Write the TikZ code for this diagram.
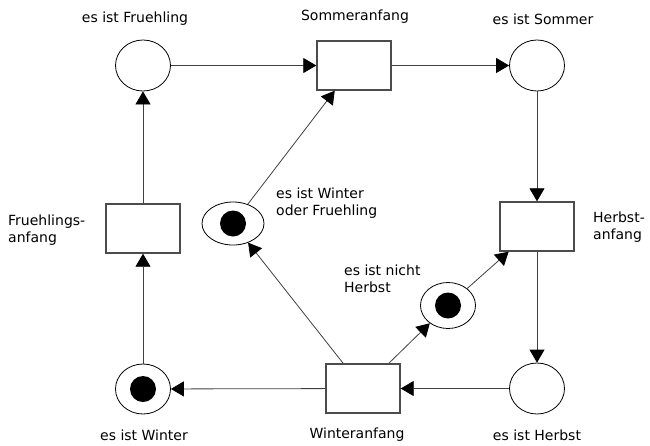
\documentclass[tikz,border=0pt]{standalone}
\usepackage{fontspec}
\setmainfont{DejaVu Sans}
\usepackage{tikz}
\usetikzlibrary{arrows.meta,shapes.geometric}

\tikzset{
  place/.style={draw, ellipse, line width=0.8pt, minimum width=55pt, minimum height=51pt, inner sep=0pt},
  trans/.style={draw=black!70, line width=1.4pt, minimum width=74pt, minimum height=49pt, inner sep=0pt},
  arc/.style={-{Triangle[width=15pt,length=13pt,black]}, draw=black!75, line width=0.8pt},
  lbl/.style={font=\fontsize{14}{17}\selectfont, align=left, inner sep=0pt}
}

\begin{document}
\begin{tikzpicture}[x=1pt,y=-1pt]
  \useasboundingbox (0,0) rectangle (650,445);
  % Stellen
  \node[place] (fruehling) at (143,65.5) {};
  \node[place] (sommer) at (537,65.5) {};
  \node[place] (herbst) at (537,388.5) {};
  \node[place, minimum height=50pt] (winter) at (143,389) {};
  \node[place, minimum width=62pt, minimum height=43pt] (wof) at (233,223.5) {};
  \node[place, minimum width=55pt, minimum height=46pt] (nichtherbst) at (448,305.5) {};
  \foreach \p in {winter,wof,nichtherbst} \fill[black] (\p) circle (13pt);
  % Transitionen
  \node[trans] (sa) at (354,65.5) {};
  \node[trans] (ha) at (537,226.5) {};
  \node[trans] (wa) at (363,388.5) {};
  \node[trans] (fa) at (143,228.5) {};
  % Kanten
  \draw[arc] (fruehling) -- (sa);
  \draw[arc] (sa) -- (sommer);
  \draw[arc] (sommer) -- (ha);
  \draw[arc] (ha) -- (herbst);
  \draw[arc] (herbst) -- (wa);
  \draw[arc] (wa) -- (winter);
  \draw[arc] (winter) -- (fa);
  \draw[arc] (fa) -- (fruehling);
  \draw[arc] (wa) -- (wof);
  \draw[arc] (wof) -- (sa);
  \draw[arc] (wa) -- (nichtherbst);
  \draw[arc] (nichtherbst) -- (ha);
  % Beschriftungen
  \node[lbl] (l1) at (135,19) {es ist Fruehling};
  \node[lbl] (l2) at (355,17) {Sommeranfang};
  \node[lbl] (l3) at (543,19) {es ist Sommer};
  \node[lbl, anchor=west] (l4) at (8,230) {Fruehlings-\\anfang};
  \node[lbl, anchor=west] (l5) at (276,203) {es ist Winter\\oder Fruehling};
  \node[lbl, anchor=west] (l6) at (593,227) {Herbst-\\anfang};
  \node[lbl, anchor=west] (l7) at (344,279) {es ist nicht\\Herbst};
  \node[lbl] (l8) at (144,435) {es ist Winter};
  \node[lbl] (l9) at (357,435) {Winteranfang};
  \node[lbl] (l10) at (537,435) {es ist Herbst};
\end{tikzpicture}
\end{document}
